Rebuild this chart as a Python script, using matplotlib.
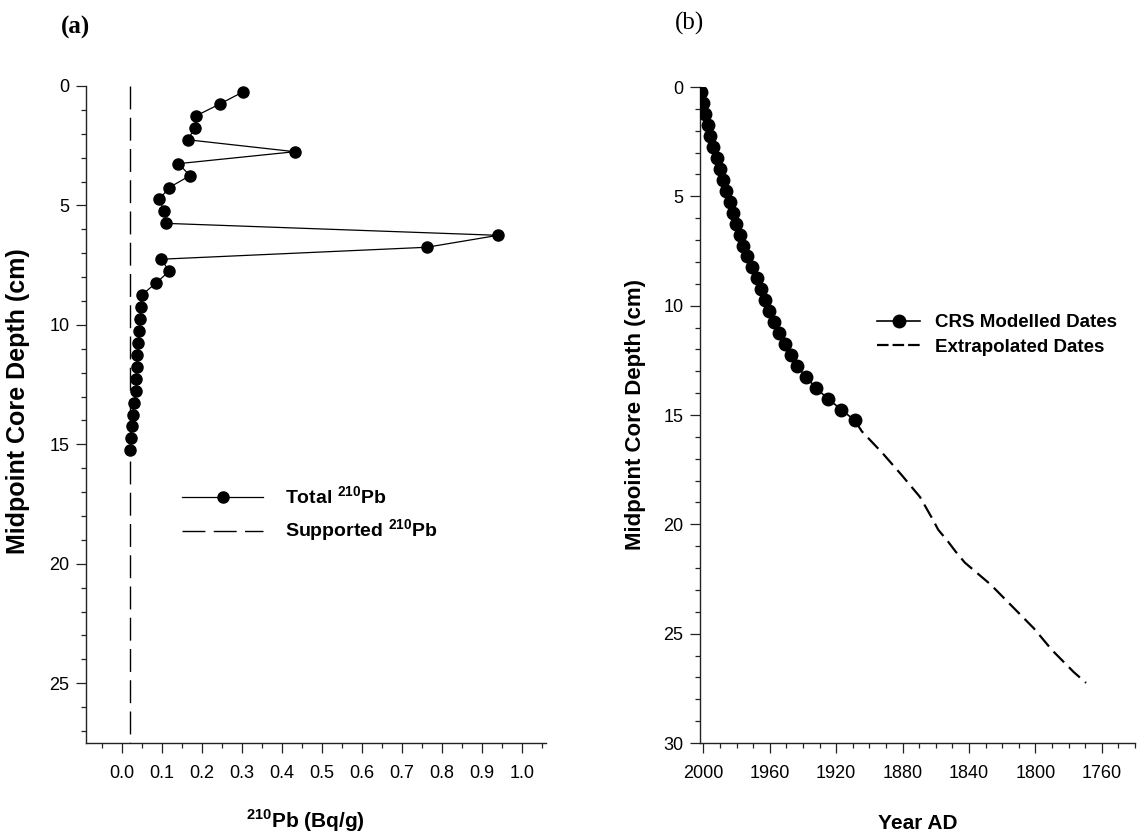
import matplotlib
matplotlib.use("Agg")
import matplotlib.pyplot as plt
from matplotlib.ticker import MultipleLocator, FormatStrFormatter
from matplotlib.lines import Line2D

plt.rcParams['font.family'] = ['Liberation Sans', 'DejaVu Sans']
plt.rcParams['mathtext.fontset'] = 'custom'
plt.rcParams['mathtext.rm'] = 'Liberation Sans:bold'
plt.rcParams['mathtext.bf'] = 'Liberation Sans:bold'

# (a) 210Pb activity profile
depth_a = [0.25, 0.75, 1.25, 1.75, 2.25, 2.75, 3.25, 3.75, 4.25, 4.75,
           5.25, 5.75, 6.25, 6.75, 7.25, 7.75, 8.25, 8.75, 9.25, 9.75,
           10.25, 10.75, 11.25, 11.75, 12.25, 12.75, 13.25, 13.75, 14.25,
           14.75, 15.25]
total_pb = [0.302, 0.245, 0.185, 0.183, 0.164, 0.432, 0.141, 0.170, 0.118,
            0.093, 0.106, 0.110, 0.940, 0.762, 0.098, 0.118, 0.085, 0.049,
            0.047, 0.045, 0.043, 0.041, 0.038, 0.037, 0.034, 0.036, 0.030,
            0.027, 0.024, 0.023, 0.020]
supported_pb = 0.02
supported_depth = [0.0, 27.5]

# (b) CRS chronology
depth_crs = depth_a
year_crs = [2001.4, 2000.2, 1998.8, 1997.4, 1995.8, 1994.2, 1991.8, 1989.8,
            1988.2, 1986.2, 1984.2, 1982.2, 1980.2, 1978.2, 1976.2, 1973.8,
            1970.8, 1967.8, 1965.2, 1962.8, 1960.2, 1957.4, 1954.2, 1950.8,
            1947.3, 1943.7, 1938.3, 1932.3, 1925.1, 1916.9, 1908.8]
depth_ext = [15.25, 15.75, 16.75, 17.75, 18.25, 18.75, 19.75, 20.25, 20.75,
             21.25, 21.75, 22.75, 23.75, 24.75, 25.75, 26.75, 27.25]
year_ext = [1908.8, 1904.5, 1892.0, 1880.5, 1875.0, 1869.5, 1862.0, 1858.5,
            1853.0, 1848.0, 1842.5, 1827.0, 1814.0, 1801.0, 1790.0, 1777.0,
            1769.5]

W, H = 1142, 840
fig = plt.figure(figsize=(W / 100, H / 100), dpi=100)


def frac(x0, y0, x1, y1):
    return [x0 / W, 1 - y1 / H, (x1 - x0) / W, (y1 - y0) / H]


ax1 = fig.add_axes(frac(86, 86, 546, 743))
ax2 = fig.add_axes(frac(700, 87, 1135, 743))

for ax in (ax1, ax2):
    ax.spines['top'].set_visible(False)
    ax.spines['right'].set_visible(False)
    for s in ('left', 'bottom'):
        ax.spines[s].set_linewidth(1.0)
        ax.spines[s].set_color('#222222')
    ax.tick_params(which='major', direction='out', length=7, width=0.9,
                   labelsize=13, color='#222222')
    ax.tick_params(which='minor', direction='out', length=3.5, width=0.9,
                   color='#222222')
    ax.tick_params(axis='x', which='major', pad=9)
    ax.tick_params(axis='y', which='major', pad=5)

# panel (a)
ax1.plot(total_pb, depth_a, '-o', color='black', lw=0.9, ms=8,
         label='Total $^{210}$Pb')
ax1.plot([supported_pb, supported_pb], supported_depth, color='black',
         lw=1.0, linestyle=(0, (16.5, 6)), label='Supported $^{210}$Pb')
ax1.set_xlim(-0.09, 1.06)
ax1.set_ylim(27.5, 0)
ax1.set_xticks([i / 10 for i in range(11)])
ax1.xaxis.set_minor_locator(MultipleLocator(0.05))
ax1.xaxis.set_major_formatter(FormatStrFormatter('%.1f'))
ax1.yaxis.set_major_locator(MultipleLocator(5))
ax1.yaxis.set_minor_locator(MultipleLocator(1))
ax1.set_xlabel('$^{210}$Pb (Bq/g)', fontsize=15, fontweight='bold')
ax1.xaxis.set_label_coords(0.478, -0.098)
ax1.set_ylabel('Midpoint Core Depth (cm)', fontsize=18, fontweight='bold')
ax1.yaxis.set_label_coords(-0.122, 0.52)
ax1.legend(loc='center left', bbox_to_anchor=(0.187, 0.347), frameon=False,
           prop={'weight': 'bold', 'size': 14}, borderpad=0,
           handlelength=4.2, handletextpad=1.1, labelspacing=0.5,
           markerscale=1.0)

# panel (b)
ax2.plot(year_ext, depth_ext, color='black', lw=1.6,
         linestyle=(0, (6.75, 3.1)), zorder=2)
ax2.plot(year_crs, depth_crs, '-o', color='black', lw=1.2, ms=9, zorder=3)
ax2.set_xlim(2002, 1740)
ax2.set_ylim(30, 0)
ax2.set_xticks(list(range(2000, 1759, -40)))
ax2.xaxis.set_minor_locator(MultipleLocator(10))
ax2.yaxis.set_major_locator(MultipleLocator(5))
ax2.yaxis.set_minor_locator(MultipleLocator(1))
ax2.set_xlabel('Year AD', fontsize=15, fontweight='bold')
ax2.xaxis.set_label_coords(0.5, -0.108)
ax2.set_ylabel('Midpoint Core Depth (cm)', fontsize=16, fontweight='bold')
ax2.yaxis.set_label_coords(-0.125, 0.5)

h_crs = Line2D([], [], color='black', lw=1.2, marker='o', ms=9)
h_ext = Line2D([], [], color='black', lw=1.6, linestyle=(0, (5.2, 1.8)))
ax2.legend([h_crs, h_ext], ['CRS Modelled Dates', 'Extrapolated Dates'],
           loc='center left', bbox_to_anchor=(0.386, 0.622), frameon=False,
           prop={'weight': 'bold', 'size': 13.5}, borderpad=0,
           handlelength=2.3, handletextpad=0.8, labelspacing=0.4)

fig.text(76 / W, 1 - 27 / H, '(a)', fontsize=18, fontweight='bold',
         family='Liberation Serif', ha='center', va='center')
fig.text(690 / W, 1 - 23 / H, '(b)', fontsize=18,
         family='Liberation Serif', ha='center', va='center')

fig.savefig('out.png', dpi=100)
